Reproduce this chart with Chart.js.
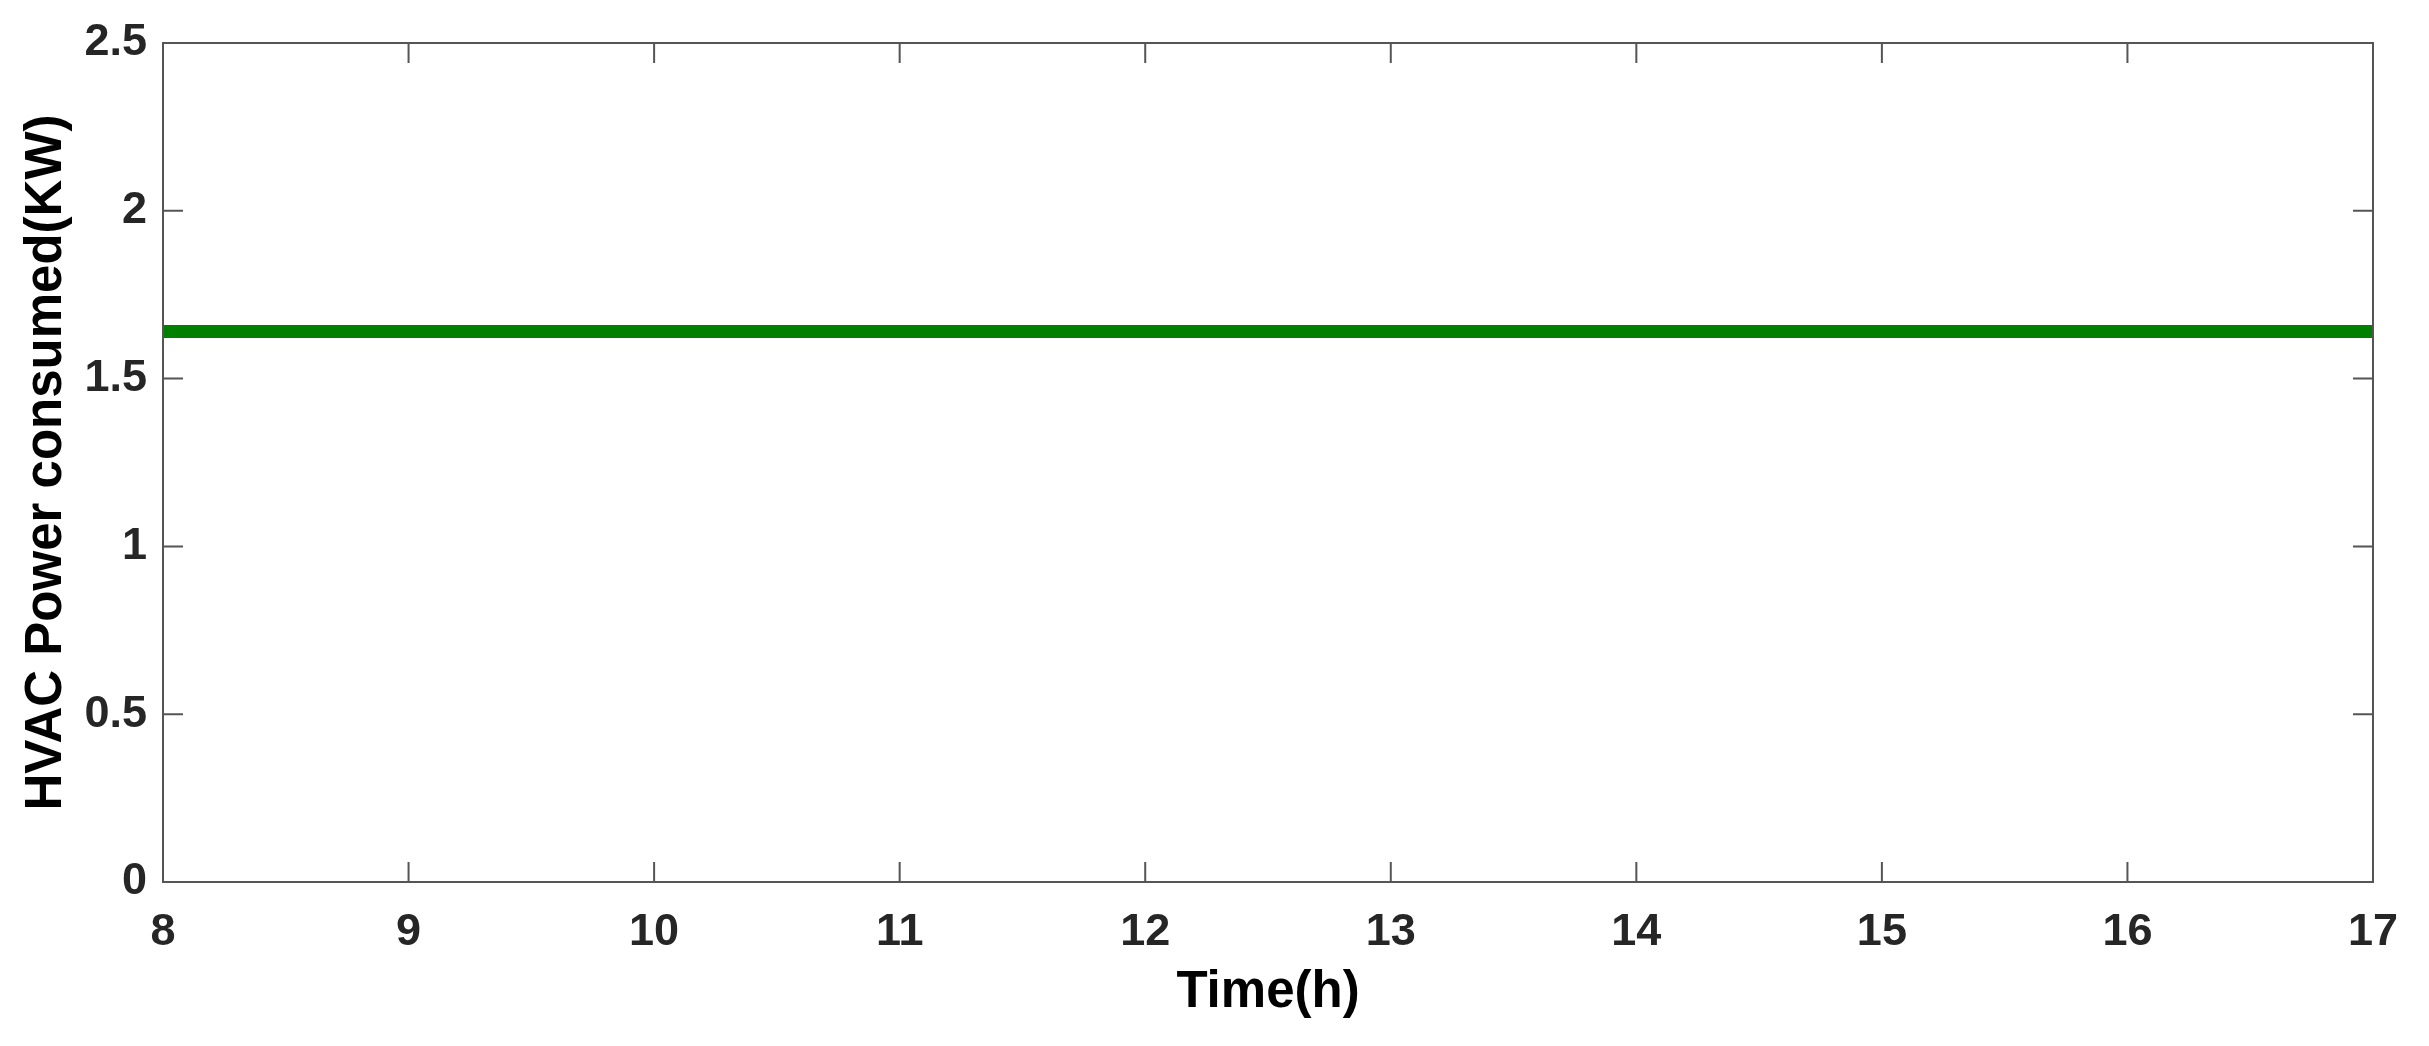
<!DOCTYPE html>
<html>
<head>
<meta charset="utf-8">
<script src="https://cdn.jsdelivr.net/npm/chart.js@4.4.1/dist/chart.umd.min.js"></script>
<style>
  html, body { margin: 0; padding: 0; background: #fff; }
  #wrap { width: 2429px; height: 1046px; }
</style>
</head>
<body>
<div id="wrap"><canvas id="powerChart" width="2429" height="1046"></canvas></div>
<script>
// data
var hours = [8, 9, 10, 11, 12, 13, 14, 15, 16, 17];
var hvacPower = [1.64, 1.64, 1.64, 1.64, 1.64, 1.64, 1.64, 1.64, 1.64, 1.64];
var xTicks = [8, 9, 10, 11, 12, 13, 14, 15, 16, 17];
var yTicks = [0, 0.5, 1, 1.5, 2, 2.5];
var yTickLabels = ['0', '0.5', '1', '1.5', '2', '2.5'];

var axisColor = '#555555';
var textColor = '#262626';

// MATLAB style box with inward ticks on all four sides
var boxTicks = {
    id: 'boxTicks',
    afterDraw: function (chart) {
        var c = chart.ctx, a = chart.chartArea;
        var xs = chart.scales.x, ys = chart.scales.y;
        var len = 20;
        c.save();
        c.strokeStyle = axisColor;
        c.lineWidth = 2;
        c.strokeRect(a.left, a.top, a.right - a.left, a.bottom - a.top);
        c.beginPath();
        xTicks.forEach(function (v) {
            var px = xs.getPixelForValue(v);
            c.moveTo(px, a.bottom); c.lineTo(px, a.bottom - len);
            c.moveTo(px, a.top); c.lineTo(px, a.top + len);
        });
        yTicks.forEach(function (v) {
            var py = ys.getPixelForValue(v);
            c.moveTo(a.left, py); c.lineTo(a.left + len, py);
            c.moveTo(a.right, py); c.lineTo(a.right - len, py);
        });
        c.stroke();
        c.restore();
    }
};

var ctx = document.getElementById('powerChart').getContext('2d');
var chart = new Chart(ctx, {
    type: 'line',
    data: {
        datasets: [{
            label: 'HVAC Power',
            data: hours.map(function (h, i) { return {x: h, y: hvacPower[i]}; }),
            borderColor: '#008000',
            backgroundColor: '#008000',
            borderWidth: 13,
            pointRadius: 0,
            tension: 0,
            fill: false
        }]
    },
    options: {
        responsive: false,
        animation: false,
        layout: { padding: { left: 16, right: 56, top: 43, bottom: 0 } },
        plugins: {
            legend: { display: false },
            tooltip: { enabled: false }
        },
        scales: {
            x: {
                type: 'linear',
                min: 8,
                max: 17,
                afterBuildTicks: function (s) { s.ticks = xTicks.map(function (v) { return {value: v}; }); },
                grid: { display: false, drawTicks: false },
                border: { display: false },
                ticks: {
                    color: textColor,
                    padding: 24,
                    maxRotation: 0,
                    font: { family: 'Liberation Sans, Arial, sans-serif', size: 45, weight: 'bold' }
                },
                title: {
                    display: true,
                    text: 'Time(h)',
                    color: '#000',
                    padding: { top: 2, bottom: 22 },
                    font: { family: 'Liberation Sans, Arial, sans-serif', size: 51, weight: 'bold' }
                },
                afterFit: function (s) { s.height = 1046 - 882; }
            },
            y: {
                min: 0,
                max: 2.5,
                afterBuildTicks: function (s) { s.ticks = yTicks.map(function (v) { return {value: v}; }); },
                grid: { display: false, drawTicks: false },
                border: { display: false },
                ticks: {
                    color: textColor,
                    padding: 16,
                    font: { family: 'Liberation Sans, Arial, sans-serif', size: 45, weight: 'bold' },
                    callback: function (v, i) { return yTickLabels[i]; }
                },
                title: {
                    display: true,
                    text: 'HVAC Power consumed(KW)',
                    color: '#000',
                    padding: { top: 0, bottom: 10 },
                    font: { family: 'Liberation Sans, Arial, sans-serif', size: 51, weight: 'bold' }
                },
                afterFit: function (s) { s.width = 163 - 16; }
            }
        }
    },
    plugins: [boxTicks]
});
</script>
</body>
</html>
